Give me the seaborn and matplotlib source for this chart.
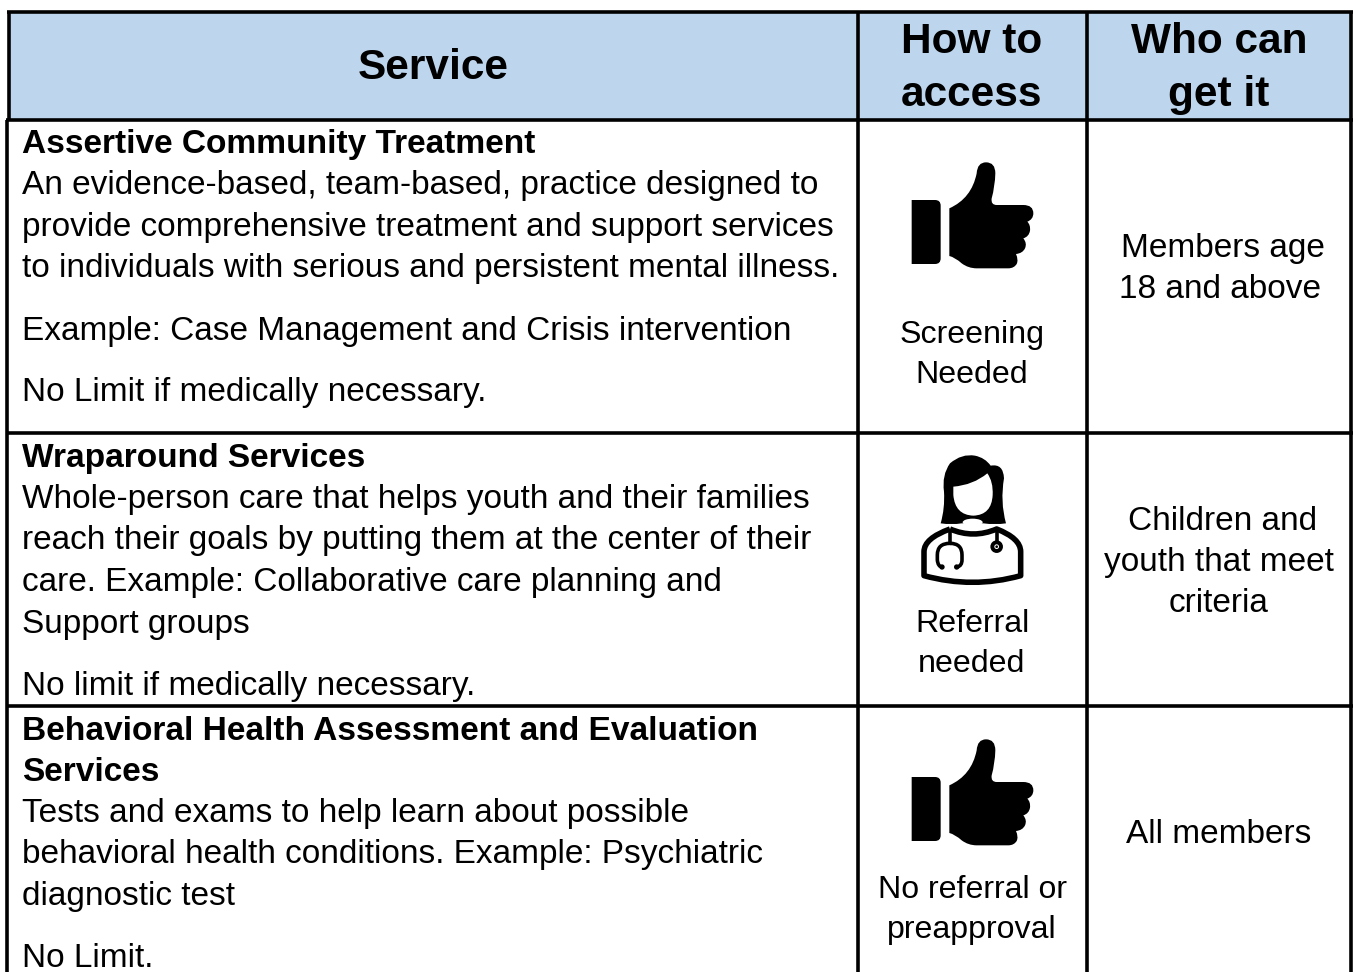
import matplotlib.pyplot as plt
import seaborn as sns
from matplotlib.path import Path
from matplotlib.patches import PathPatch, Rectangle, Circle, Ellipse

# table text
headers = ['Service', 'How to\naccess', 'Who can\nget it']
service_names = [['Assertive Community Treatment'],
                 ['Wraparound Services'],
                 ['Behavioral Health Assessment and Evaluation', 'Services']]
service_text = [['An evidence-based, team-based, practice designed to',
                 'provide comprehensive treatment and support services',
                 'to individuals with serious and persistent mental illness.',
                 'Example: Case Management and Crisis intervention',
                 'No Limit if medically necessary.'],
                ['Whole-person care that helps youth and their families',
                 'reach their goals by putting them at the center of their',
                 'care. Example: Collaborative care planning and',
                 'Support groups',
                 'No limit if medically necessary.'],
                ['Tests and exams to help learn about possible',
                 'behavioral health conditions. Example: Psychiatric',
                 'diagnostic test',
                 'No Limit.']]
access = ['Screening\nNeeded', 'Referral\nneeded', 'No referral or\npreapproval']
who = ['Members age\n18 and above', 'Children and\nyouth that meet\ncriteria', 'All members']

sns.set_theme(style='white')
plt.rcParams['font.family'] = ['Liberation Sans', 'DejaVu Sans']
plt.rcParams['text.color'] = 'black'

W, H = 1353, 972
fig = plt.figure(figsize=(W / 100, H / 100), dpi=100)
ax = fig.add_axes([0, 0, 1, 1])
ax.set_xlim(0, W)
ax.set_ylim(H, 0)
ax.axis('off')

BODY = 24.05
BOLD = 24.08
HEAD = 30.5
SMALL = 23.15
LW = 3.6 * 0.72
M, L, C = Path.MOVETO, Path.LINETO, Path.CURVE3

# header band and grid
ax.add_patch(Rectangle((9, 13), 1342, 107, fc='#bdd6ee', ec='none'))
ax.hlines(11.8, 7, 1352.5, color='black', lw=LW)
ax.hlines([120.5, 433, 706], 6, 1352.5, color='black', lw=LW)
ax.vlines([858, 1086.7, 1351], 11, 972, color='black', lw=LW)
ax.vlines(8.7, 11, 120, color='black', lw=LW)
ax.vlines(7.3, 120, 972, color='black', lw=LW)


def shape(pts, p, **kw):
    ax.add_patch(PathPatch(Path([p(a, b) for a, b, _ in pts], [c for _, _, c in pts]), **kw))


def thumb(x0, y0):
    # traced from the icon, 3 units = 1 px
    def p(x, y):
        return (x0 + x / 3, y0 + y / 3)
    hand = [(208, 205, M), (275, 175, C), (290, 100, C), (292, 67, C), (318, 67, C),
            (346, 67, C), (346, 100, C), (345, 140, C), (335, 175, C), (332, 195, C),
            (350, 195, C), (430, 195, L), (460, 195, C), (460, 220, C), (460, 238, C),
            (442, 245, C), (452, 255, C), (450, 272, C), (447, 290, C), (430, 295, C),
            (442, 310, C), (435, 325, C), (428, 340, C), (408, 342, C), (416, 360, C),
            (410, 372, C), (402, 385, C), (385, 385, C), (290, 385, L), (265, 385, C),
            (245, 370, C), (225, 352, C), (208, 348, C), (208, 205, L)]
    shape(hand, p, fc='black', ec='none')
    cuff = [(95, 180, M), (165, 180, L), (182, 180, C), (182, 197, C), (182, 355, L),
            (182, 372, C), (165, 372, C), (95, 372, L), (95, 180, L)]
    shape(cuff, p, fc='black', ec='none')


def doctor(x0, y0):
    def p(x, y):
        return (x0 + x / 3, y0 + y / 3)
    hair = [(122, 235, M), (135, 190, C), (132, 140, C), (125, 90, C), (150, 55, C),
            (185, 25, C), (225, 32, C), (255, 38, C), (272, 62, C), (310, 55, C),
            (312, 100, C), (300, 170, C), (318, 235, C), (285, 240, C), (250, 235, L),
            (185, 235, L), (155, 240, C), (122, 235, C)]
    shape(hair, p, fc='black', ec='none')
    face = [(160, 125, M), (220, 120, C), (262, 85, C), (280, 110, C), (278, 150, C),
            (275, 210, C), (220, 212, C), (165, 210, C), (160, 150, C), (160, 125, L)]
    shape(face, p, fc='white', ec='none')
    # white neck gap
    ax.add_patch(Ellipse(p(218, 232), 60 / 3, 22 / 3, fc='white', ec='none'))
    body = [(150, 252, M), (72, 280, C), (72, 320, C), (72, 392, L), (218, 432, C),
            (362, 392, C), (362, 320, L), (362, 280, C), (290, 252, C), (220, 282, C),
            (150, 252, C)]
    shape(body, p, fc='none', ec='black', lw=4.0, joinstyle='round')
    left = [(150, 255, M), (150, 295, L), (112, 295, C), (112, 330, C), (112, 345, L),
            (114, 365, C), (126, 366, C)]
    right = [(150, 295, M), (186, 295, C), (186, 330, C), (186, 345, L), (186, 362, C),
             (172, 366, C)]
    shape(left, p, fc='none', ec='black', lw=2.6)
    shape(right, p, fc='none', ec='black', lw=2.6)
    ax.add_patch(Circle(p(126, 366), 8 / 3, fc='black', ec='none'))
    ax.add_patch(Circle(p(170, 366), 8 / 3, fc='black', ec='none'))
    ax.plot(*zip(p(290, 255), p(290, 290)), color='black', lw=2.6, solid_capstyle='butt')
    ax.add_patch(Circle(p(290, 305), 13 / 3, fc='white', ec='black', lw=2.8))
    ax.add_patch(Circle(p(290, 305), 4 / 3, fc='black', ec='none'))


thumb(880, 140)
doctor(900, 445)
thumb(880, 717)

# header text
ax.text(433, 79, headers[0], fontsize=HEAD, fontweight='bold', ha='center', va='baseline')
for i, cx in zip([1, 2], [972, 1219]):
    for line, y in zip(headers[i].split('\n'), [53, 106]):
        ax.text(cx, y, line, fontsize=HEAD, fontweight='bold', ha='center', va='baseline')

# service column
name_y = [[153], [467], [740, 781]]
text_y = [[194, 236, 277, 340, 401],
          [508, 549, 591, 633, 695],
          [822, 863, 905, 967]]
for r in range(3):
    for line, y in zip(service_names[r], name_y[r]):
        ax.text(22, y, line, fontsize=BOLD, fontweight='bold', va='baseline')
    for line, y in zip(service_text[r], text_y[r]):
        ax.text(22, y, line, fontsize=BODY, va='baseline')

# access and who columns
access_y = [[343, 383], [632, 672], [898, 938]]
who_y = [[257, 298], [530, 571, 612], [843]]
who_x = [[1223, 1220], [1223, 1219, 1219], [1219]]
for r in range(3):
    for line, y in zip(access[r].split('\n'), access_y[r]):
        ax.text(972, y, line, fontsize=SMALL, ha='center', va='baseline')
    for line, x, y in zip(who[r].split('\n'), who_x[r], who_y[r]):
        ax.text(x, y, line, fontsize=BODY, ha='center', va='baseline')

fig.savefig('out.png', dpi=100)
